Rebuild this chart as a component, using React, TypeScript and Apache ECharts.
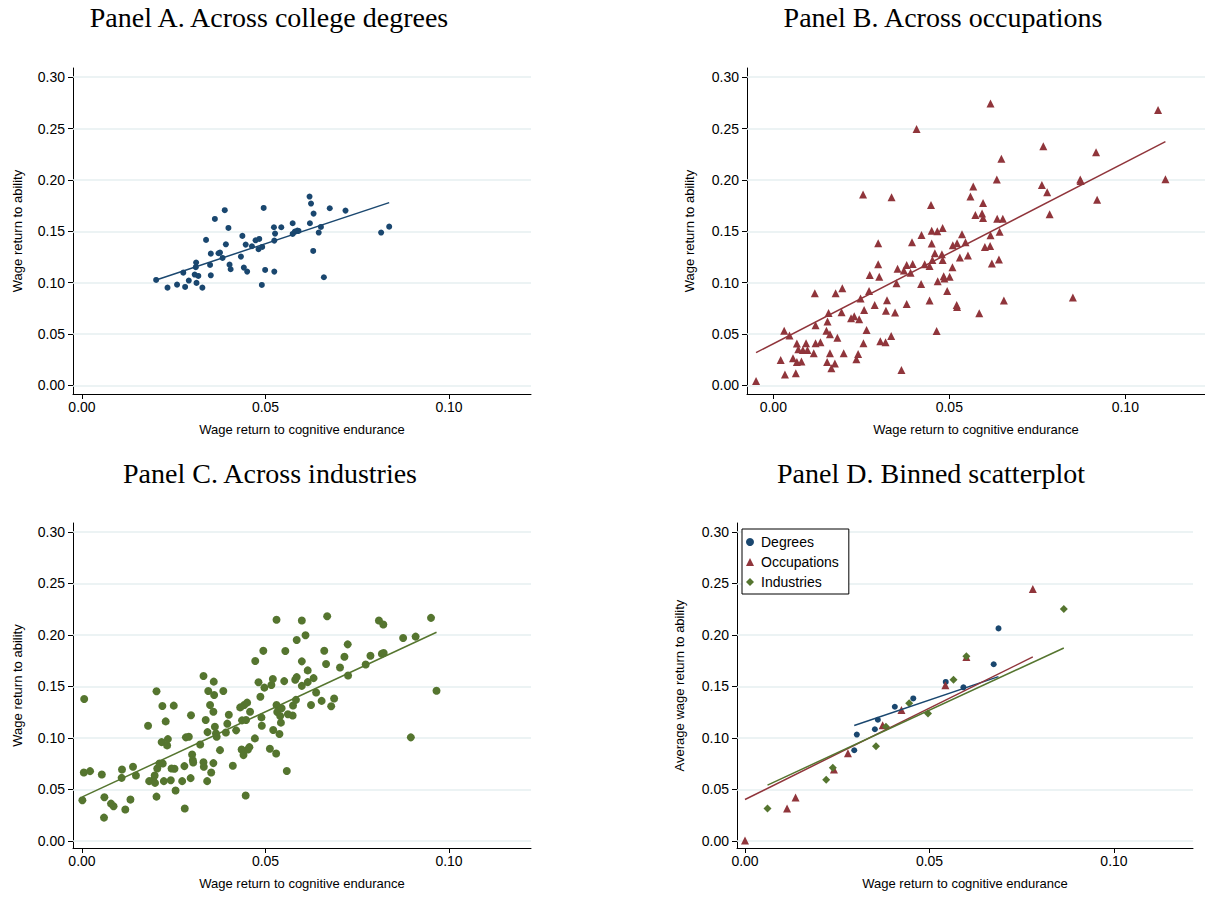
import React, { useEffect, useRef } from "react";
import * as echarts from "echarts";

// ---------------- DATA ----------------
const X_TICKS = [0, 0.05, 0.1];
const Y_TICKS = [0, 0.05, 0.1, 0.15, 0.2, 0.25, 0.3];

const panelTitles = [
  "Panel A. Across college degrees",
  "Panel B. Across occupations",
  "Panel C. Across industries",
  "Panel D. Binned scatterplot",
];
const xAxisTitle = "Wage return to cognitive endurance";
const yAxisTitles = [
  "Wage return to ability",
  "Wage return to ability",
  "Wage return to ability",
  "Average wage return to ability",
];

const degreesPoints: number[][] = [
  [0.0202, 0.1026], [0.0233, 0.0951], [0.0259, 0.098], [0.0281, 0.0958], [0.0276, 0.1097],
  [0.0291, 0.102], [0.0311, 0.1195], [0.031, 0.115], [0.0307, 0.1078], [0.0317, 0.1065],
  [0.0312, 0.0997], [0.0328, 0.0951], [0.0338, 0.1416], [0.0349, 0.1172], [0.0351, 0.1282],
  [0.0351, 0.1071], [0.0362, 0.162], [0.0372, 0.1286], [0.0376, 0.1292], [0.0383, 0.124],
  [0.0389, 0.1705], [0.0392, 0.1373], [0.0399, 0.1532], [0.0402, 0.1175], [0.0405, 0.113],
  [0.0433, 0.1253], [0.0437, 0.1455], [0.0441, 0.1146], [0.0446, 0.137], [0.045, 0.1107],
  [0.0463, 0.1354], [0.0473, 0.1412], [0.0483, 0.1425], [0.0481, 0.1325], [0.0491, 0.1347],
  [0.049, 0.0977], [0.0495, 0.1727], [0.0499, 0.1123], [0.0523, 0.1539], [0.0526, 0.1477],
  [0.0524, 0.1409], [0.0524, 0.1107], [0.0543, 0.1539], [0.0574, 0.1578], [0.0574, 0.1474],
  [0.058, 0.1497], [0.0587, 0.1506], [0.059, 0.1503], [0.062, 0.1838], [0.0624, 0.177],
  [0.0631, 0.1672], [0.0621, 0.1578], [0.063, 0.1308], [0.0645, 0.1487], [0.0651, 0.1542],
  [0.0659, 0.1052], [0.0675, 0.1724], [0.0718, 0.1701], [0.0815, 0.1487], [0.0837, 0.1545],
];
const degreesFit: number[][] = [[0.0202, 0.1026], [0.0837, 0.1779]];

const occupationsPoints: number[][] = [
  [-0.0049, 0.0042], [0.0021, 0.0247], [0.0031, 0.0532], [0.0033, 0.0104], [0.0046, 0.0484],
  [0.0056, 0.0263], [0.0064, 0.0117], [0.0067, 0.0227], [0.0067, 0.0406], [0.0071, 0.0351],
  [0.008, 0.0231], [0.0084, 0.0344], [0.0093, 0.0409], [0.0097, 0.0344], [0.0115, 0.0312],
  [0.0118, 0.0896], [0.012, 0.0584], [0.012, 0.0409], [0.0134, 0.0419], [0.0151, 0.0532],
  [0.0154, 0.062], [0.0157, 0.0705], [0.0161, 0.0312], [0.0161, 0.0497], [0.0153, 0.0227],
  [0.0165, 0.0166], [0.0175, 0.0211], [0.0177, 0.0896], [0.0182, 0.0464], [0.0194, 0.0711],
  [0.0196, 0.0945], [0.02, 0.0312], [0.0221, 0.0653], [0.023, 0.0672], [0.0236, 0.0253],
  [0.0241, 0.0305], [0.0244, 0.0643], [0.0248, 0.0844], [0.0255, 0.1857], [0.0258, 0.0734],
  [0.0256, 0.0409], [0.0265, 0.0539], [0.0272, 0.0919], [0.0274, 0.1075], [0.0288, 0.0782],
  [0.0298, 0.1383], [0.0298, 0.1179], [0.0301, 0.1058], [0.0304, 0.0429], [0.0319, 0.0419],
  [0.032, 0.0727], [0.0323, 0.0828], [0.0335, 0.0481], [0.0336, 0.1831], [0.0346, 0.0708],
  [0.035, 0.0994], [0.0353, 0.1136], [0.0364, 0.0149], [0.0371, 0.1117], [0.0379, 0.0792],
  [0.0379, 0.1172], [0.039, 0.1097], [0.0394, 0.1393], [0.0396, 0.1182], [0.0407, 0.2497],
  [0.042, 0.0987], [0.0421, 0.1464], [0.043, 0.1179], [0.0444, 0.0825], [0.0444, 0.1162],
  [0.0448, 0.1756], [0.045, 0.1506], [0.045, 0.138], [0.0452, 0.1221], [0.0459, 0.1286],
  [0.0464, 0.0529], [0.0466, 0.15], [0.0467, 0.1013], [0.0479, 0.1276], [0.0481, 0.1532],
  [0.0481, 0.1221], [0.0484, 0.1062], [0.0486, 0.1039], [0.0494, 0.0919], [0.0501, 0.1058],
  [0.0509, 0.1149], [0.051, 0.1364], [0.0521, 0.0782], [0.0522, 0.1383], [0.0522, 0.0763],
  [0.053, 0.1244], [0.0536, 0.1471], [0.0546, 0.1393], [0.0553, 0.1263], [0.056, 0.1838],
  [0.0568, 0.1935], [0.0574, 0.1659], [0.0585, 0.0701], [0.0596, 0.1776], [0.0593, 0.1672],
  [0.0596, 0.163], [0.0617, 0.2744], [0.0635, 0.2003], [0.0648, 0.2205], [0.0636, 0.1623],
  [0.0652, 0.1623], [0.0617, 0.1461], [0.0643, 0.1494], [0.0601, 0.1347], [0.0616, 0.1357],
  [0.0621, 0.1185], [0.0641, 0.1224], [0.0655, 0.0825], [0.0763, 0.1951], [0.0767, 0.2328],
  [0.0778, 0.188], [0.0785, 0.1666], [0.0851, 0.0854], [0.0872, 0.2003], [0.0873, 0.199],
  [0.0917, 0.2269], [0.092, 0.1808], [0.1093, 0.2682], [0.1114, 0.2006],
];
const occupationsFit: number[][] = [[-0.0049, 0.0318], [0.1114, 0.2373]];

const industriesPoints: number[][] = [
  [0.0001, 0.0396], [0.0006, 0.1379], [0.0005, 0.0665], [0.0022, 0.0678], [0.0054, 0.0645],
  [0.0061, 0.0425], [0.006, 0.0227], [0.0079, 0.0363], [0.0086, 0.0337], [0.0109, 0.0694],
  [0.0108, 0.0613], [0.0118, 0.0305], [0.0132, 0.0402], [0.0139, 0.072], [0.0147, 0.0636],
  [0.018, 0.1119], [0.0183, 0.0581], [0.0194, 0.059], [0.0198, 0.0636], [0.0199, 0.0564],
  [0.0203, 0.1453], [0.0203, 0.0431], [0.0205, 0.0704], [0.0211, 0.0753], [0.0217, 0.096],
  [0.0219, 0.131], [0.022, 0.0753], [0.0223, 0.0581], [0.0228, 0.1161], [0.0232, 0.0928],
  [0.0234, 0.0989], [0.0242, 0.059], [0.0244, 0.0704], [0.025, 0.1314], [0.0252, 0.0701],
  [0.0255, 0.049], [0.0273, 0.0581], [0.0279, 0.0727], [0.028, 0.0315], [0.0283, 0.1006],
  [0.0291, 0.1012], [0.0296, 0.061], [0.0297, 0.122], [0.03, 0.084], [0.0302, 0.0785],
  [0.0303, 0.0762], [0.0322, 0.0937], [0.0331, 0.0765], [0.0331, 0.1602], [0.0332, 0.072],
  [0.0337, 0.1174], [0.0341, 0.0581], [0.0344, 0.1456], [0.0342, 0.1057], [0.0349, 0.132],
  [0.0352, 0.0665], [0.0358, 0.1255], [0.0358, 0.0756], [0.0359, 0.1547], [0.036, 0.1417],
  [0.0362, 0.1109], [0.0365, 0.1044], [0.0367, 0.1012], [0.0376, 0.0882], [0.0385, 0.1456],
  [0.0392, 0.1054], [0.0396, 0.1139], [0.04, 0.1226], [0.0411, 0.073], [0.042, 0.1074],
  [0.0436, 0.1171], [0.0435, 0.0889], [0.044, 0.0834], [0.0446, 0.0441], [0.0431, 0.1297],
  [0.0442, 0.132], [0.045, 0.1343], [0.0458, 0.1255], [0.0447, 0.1174], [0.0452, 0.0889],
  [0.0456, 0.0911], [0.0471, 0.0996], [0.0472, 0.1748], [0.0481, 0.1541], [0.0486, 0.1401],
  [0.0489, 0.12], [0.049, 0.1119], [0.0494, 0.1846], [0.0497, 0.1489], [0.0512, 0.0895],
  [0.0516, 0.1515], [0.052, 0.1573], [0.0521, 0.1077], [0.0529, 0.085], [0.053, 0.2147],
  [0.053, 0.132], [0.0532, 0.1252], [0.0538, 0.1039], [0.0544, 0.1289], [0.054, 0.1214],
  [0.0542, 0.1149], [0.0558, 0.0679], [0.0599, 0.214], [0.0668, 0.2182], [0.0585, 0.1951],
  [0.0609, 0.1997], [0.0554, 0.1844], [0.0599, 0.1744], [0.066, 0.1847], [0.0724, 0.1909],
  [0.0615, 0.1656], [0.0665, 0.1718], [0.0703, 0.1685], [0.0715, 0.1789], [0.0725, 0.1607],
  [0.0773, 0.1714], [0.0786, 0.1799], [0.0817, 0.1818], [0.0822, 0.1825], [0.0809, 0.214],
  [0.0821, 0.2101], [0.0875, 0.1971], [0.0909, 0.1984], [0.0951, 0.2166], [0.0966, 0.1458],
  [0.0896, 0.1006], [0.0551, 0.1552], [0.0581, 0.1565], [0.0585, 0.1591], [0.0599, 0.1506],
  [0.0615, 0.1542], [0.0631, 0.1581], [0.0638, 0.1442], [0.0653, 0.136], [0.0624, 0.1321],
  [0.0679, 0.1308], [0.0687, 0.1383], [0.0575, 0.1315], [0.0583, 0.137], [0.0574, 0.1218],
  [0.0561, 0.1231],
];
const industriesFit: number[][] = [[0.0001, 0.0428], [0.0966, 0.2026]];

// Panel D: binned scatter
const binDegrees: number[][] = [
  [0.0296, 0.0881], [0.0303, 0.1033], [0.0352, 0.1085], [0.036, 0.1177], [0.0406, 0.1303],
  [0.0456, 0.1384], [0.0544, 0.1544], [0.0592, 0.1492], [0.0674, 0.1716], [0.0687, 0.2064],
];
const binOccupations: number[][] = [
  [0.0, 0.0006], [0.0114, 0.0315], [0.0137, 0.0422], [0.0241, 0.0695], [0.0279, 0.0851],
  [0.0373, 0.1124], [0.0424, 0.1271], [0.0543, 0.1511], [0.06, 0.1787], [0.078, 0.2447],
];
const binIndustries: number[][] = [
  [0.0061, 0.0315], [0.022, 0.0595], [0.0238, 0.0712], [0.0355, 0.092], [0.0382, 0.1108],
  [0.0445, 0.1336], [0.0496, 0.1238], [0.0565, 0.1566], [0.06, 0.1794], [0.0864, 0.2252],
];
const binDegreesFit: number[][] = [[0.0296, 0.1121], [0.0687, 0.1596]];
const binOccupationsFit: number[][] = [[0.0, 0.0403], [0.078, 0.1787]];
const binIndustriesFit: number[][] = [[0.0061, 0.0543], [0.0864, 0.1874]];

// ---------------- STYLE / LAYOUT ----------------
const NAVY = "#1a476f";
const MAROON = "#90353b";
const GREEN = "#55752f";
const GRIDLINE = "#e6eff0";
const SANS = "'Liberation Sans', Arial, sans-serif";
const SERIF = "'Liberation Serif', 'Times New Roman', serif";

const grids = [
  { left: 73, top: 68, width: 458, height: 326 },
  { left: 747, top: 68, width: 458, height: 326 },
  { left: 73, top: 523, width: 458, height: 325 },
  { left: 737, top: 523, width: 456, height: 325 },
];
const xRanges = [
  [-0.00245, 0.12234],
  [-0.00747, 0.12264],
  [-0.00245, 0.12234],
  [-0.00217, 0.12141],
];
const yRanges = [
  [-0.0085, 0.309],
  [-0.0085, 0.309],
  [-0.0068, 0.3087],
  [-0.0068, 0.3087],
];
const yNameGaps = [49, 51, 49, 51];
const titlePos = [
  [269, 17],
  [943, 17],
  [270, 473],
  [931, 473],
];

const fmt = (v: number) => v.toFixed(2);

function makeXAxis(i: number) {
  return {
    type: "value",
    gridIndex: i,
    min: xRanges[i][0],
    max: xRanges[i][1],
    name: xAxisTitle,
    nameLocation: "middle",
    nameGap: 29,
    nameTextStyle: { fontFamily: SANS, fontSize: 13, color: "#000" },
    axisLine: { show: true, onZero: false, lineStyle: { color: "#000", width: 1 } },
    axisTick: { show: true, length: 5, customValues: X_TICKS, lineStyle: { color: "#000" } },
    axisLabel: {
      customValues: X_TICKS,
      formatter: fmt,
      fontFamily: SANS,
      fontSize: 14,
      color: "#000",
      margin: 6,
    },
    splitLine: { show: false },
  };
}

function makeYAxis(i: number) {
  return {
    type: "value",
    gridIndex: i,
    min: yRanges[i][0],
    max: yRanges[i][1],
    name: yAxisTitles[i],
    nameLocation: "middle",
    nameGap: yNameGaps[i],
    nameRotate: 90,
    nameTextStyle: { fontFamily: SANS, fontSize: 13, color: "#000" },
    axisLine: { show: true, onZero: false, lineStyle: { color: "#000", width: 1 } },
    axisTick: { show: true, length: 5, customValues: Y_TICKS, lineStyle: { color: "#000" } },
    axisLabel: {
      customValues: Y_TICKS,
      formatter: fmt,
      fontFamily: SANS,
      fontSize: 14,
      color: "#000",
      margin: 8,
    },
    splitLine: { show: false },
  };
}

function gridMarkLine() {
  return {
    silent: true,
    symbol: "none",
    z: 1,
    label: { show: false },
    emphasis: { disabled: true },
    lineStyle: { color: GRIDLINE, width: 1.5, type: "solid" },
    data: Y_TICKS.map((v) => ({ yAxis: v })),
  };
}

function scatter(name: string, data: number[][], i: number, color: string, symbol: string, size: number, withGrid: boolean) {
  const s: any = {
    type: "scatter",
    name,
    xAxisIndex: i,
    yAxisIndex: i,
    data,
    symbol,
    symbolSize: size,
    itemStyle: { color, opacity: 1 },
    emphasis: { disabled: true },
    z: 3,
  };
  if (withGrid) s.markLine = gridMarkLine();
  return s;
}

function fitLine(name: string, data: number[][], i: number, color: string) {
  return {
    type: "line",
    name,
    xAxisIndex: i,
    yAxisIndex: i,
    data,
    showSymbol: false,
    symbol: "none",
    lineStyle: { color, width: 1.5 },
    itemStyle: { color },
    emphasis: { disabled: true },
    z: 4,
  };
}

export default function App() {
  const ref = useRef<HTMLDivElement>(null);

  useEffect(() => {
    if (!ref.current) return;
    const chart = echarts.init(ref.current, undefined, { renderer: "svg" });

    const option: any = {
      animation: false,
      backgroundColor: "#fff",
      grid: grids.map((g) => ({ ...g, containLabel: false })),
      xAxis: [0, 1, 2, 3].map(makeXAxis),
      yAxis: [0, 1, 2, 3].map(makeYAxis),
      legend: {
        show: true,
        orient: "vertical",
        left: 742,
        top: 529,
        data: ["Degrees", "Occupations", "Industries"],
        itemWidth: 8,
        itemHeight: 8,
        itemGap: 6,
        padding: [6, 10, 5, 4],
        borderColor: "#000",
        borderWidth: 1,
        backgroundColor: "#fff",
        textStyle: { fontFamily: SANS, fontSize: 14, color: "#000", padding: [0, 0, 0, 2] },
        selectedMode: false,
      },
      graphic: panelTitles.map((t, i) => ({
        type: "text",
        x: titlePos[i][0],
        y: titlePos[i][1],
        style: {
          text: t,
          fontFamily: SERIF,
          fontSize: 28,
          fill: "#000",
          align: "center",
          verticalAlign: "middle",
        },
      })),
      series: [
        scatter("Panel A degrees", degreesPoints, 0, NAVY, "circle", 6, true),
        fitLine("Panel A fit", degreesFit, 0, NAVY),
        scatter("Panel B occupations", occupationsPoints, 1, MAROON, "triangle", 8, true),
        fitLine("Panel B fit", occupationsFit, 1, MAROON),
        scatter("Panel C industries", industriesPoints, 2, GREEN, "circle", 8, true),
        fitLine("Panel C fit", industriesFit, 2, GREEN),
        scatter("Degrees", binDegrees, 3, NAVY, "circle", 6, true),
        scatter("Occupations", binOccupations, 3, MAROON, "triangle", 8, false),
        scatter("Industries", binIndustries, 3, GREEN, "diamond", 8, false),
        fitLine("Degrees fit", binDegreesFit, 3, NAVY),
        fitLine("Occupations fit", binOccupationsFit, 3, MAROON),
        fitLine("Industries fit", binIndustriesFit, 3, GREEN),
      ],
    };

    chart.setOption(option);
    return () => chart.dispose();
  }, []);

  return (
    <div
      ref={ref}
      style={{ position: "absolute", left: 0, top: 0, width: 1205, height: 898, background: "#fff" }}
    />
  );
}
